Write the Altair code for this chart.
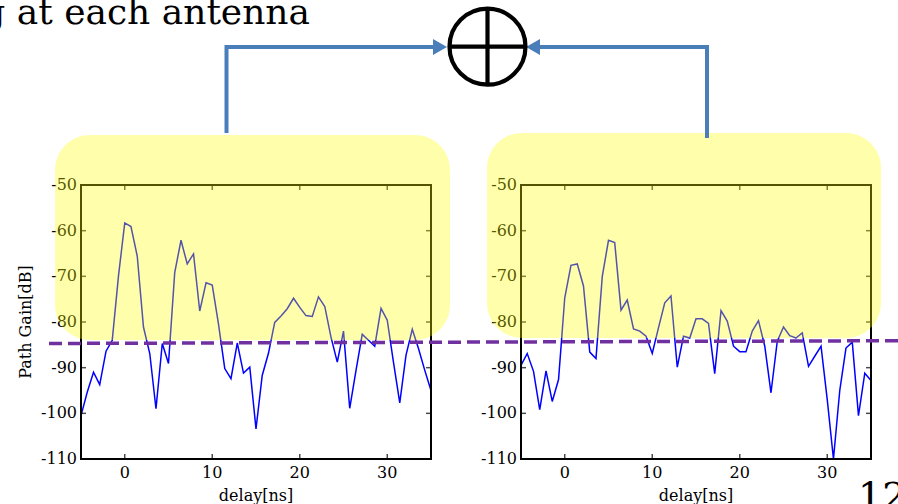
import altair as alt
import pandas as pd

# ---------------- data ----------------
delay_ns = [-5.0, -4.29, -3.57, -2.86, -2.14, -1.43, -0.71, 0.0, 0.71, 1.43,
            2.14, 2.86, 3.57, 4.29, 5.0, 5.71, 6.43, 7.14, 7.86, 8.57,
            9.29, 10.0, 10.71, 11.43, 12.14, 12.86, 13.57, 14.29, 15.0, 15.71,
            16.43, 17.14, 17.86, 18.57, 19.29, 20.0, 20.71, 21.43, 22.14, 22.86,
            23.57, 24.29, 25.0, 25.71, 26.43, 27.14, 27.86, 28.57, 29.29, 30.0,
            30.71, 31.43, 32.14, 32.86, 33.57, 34.29, 35.0]

gain_left = [-100.5, -95.4, -91.0, -93.7, -86.4, -84.0, -69.8, -58.3, -59.1, -65.6,
             -81.1, -86.9, -99.0, -84.7, -89.1, -69.2, -62.1, -67.3, -65.1, -77.6,
             -71.4, -71.9, -80.4, -90.2, -92.4, -84.6, -91.2, -89.9, -103.4, -91.7,
             -86.8, -80.1, -78.7, -77.1, -74.8, -76.8, -78.6, -78.8, -74.5, -76.6,
             -83.3, -88.8, -82.0, -98.9, -90.6, -82.7, -84.0, -85.3, -77.0, -79.6,
             -88.8, -97.7, -87.3, -81.6, -85.8, -90.6, -95.0]

gain_right = [-89.5, -86.9, -90.8, -99.2, -90.7, -97.4, -92.6, -74.7, -67.6, -67.3,
              -72.1, -86.6, -88.0, -70.0, -62.1, -62.6, -77.4, -75.2, -81.5, -82.0,
              -83.1, -86.9, -81.3, -75.8, -74.3, -89.9, -83.1, -83.5, -79.3, -79.3,
              -80.3, -91.3, -77.5, -79.8, -85.3, -86.5, -86.5, -82.0, -79.7, -85.3,
              -95.5, -84.2, -81.1, -83.0, -83.5, -82.4, -89.7, -87.5, -85.3, -97.0,
              -110.0, -95.0, -85.7, -84.4, -100.5, -91.2, -92.8]

x_ticks = [0, 10, 20, 30]
y_ticks = [-50, -60, -70, -80, -90, -100, -110]
x_domain = [-5, 35]
y_domain = [-110, -50]

heading = "g at each antenna"
y_title = "Path Gain[dB]"
x_title = "delay[ns]"
page_no = "12"

# ---------------- layout (pixels of the 898x504 page) ----------------
W, H = 898, 504
FONT = "DejaVu Serif"
panels = {"left": [81, 431], "right": [521, 871]}
plot_y_range = [459, 185]

XD = alt.Scale(domain=[0, W], range=[0, W], nice=False, zero=False)
YD = alt.Scale(domain=[0, H], range=[0, H], nice=False, zero=False)


def px(x, y):
    return dict(x=alt.X("x:Q", scale=XD, axis=None), y=alt.Y("y:Q", scale=YD, axis=None))


def panel_layers(name, gains):
    xs = alt.Scale(domain=x_domain, range=panels[name], nice=False, zero=False)
    ys = alt.Scale(domain=y_domain, range=plot_y_range, nice=False, zero=False)
    X = lambda f="x": alt.X(f + ":Q", scale=xs, axis=None)
    Y = lambda f="y": alt.Y(f + ":Q", scale=ys, axis=None)
    out = []
    df = pd.DataFrame({"x": delay_ns, "y": gains})
    out.append(alt.Chart(df).mark_line(color="#0000FF", strokeWidth=1.5, clip=True)
               .encode(x=X(), y=Y()))
    frame = pd.DataFrame({"x": [x_domain[0]], "x2": [x_domain[1]],
                          "y": [y_domain[0]], "y2": [y_domain[1]]})
    out.append(alt.Chart(frame).mark_rect(filled=False, stroke="black", strokeWidth=2)
               .encode(x=X(), x2="x2:Q", y=Y(), y2="y2:Q"))
    inner_y = pd.DataFrame({"y": [v for v in y_ticks if v not in y_domain]})
    inner_y["xl"] = x_domain[0]
    inner_y["xr"] = x_domain[1]
    out.append(alt.Chart(inner_y).mark_tick(orient="horizontal", size=5, thickness=1.5,
                                            xOffset=2.5, color="black")
               .encode(x=X("xl"), y=Y()))
    out.append(alt.Chart(inner_y).mark_tick(orient="horizontal", size=5, thickness=1.5,
                                            xOffset=-2.5, color="black")
               .encode(x=X("xr"), y=Y()))
    tx = pd.DataFrame({"x": x_ticks})
    tx["yb"] = y_domain[0]
    tx["yt"] = y_domain[1]
    out.append(alt.Chart(tx).mark_tick(orient="vertical", size=5, thickness=1.5,
                                       yOffset=-2.5, color="black")
               .encode(x=X(), y=Y("yb")))
    out.append(alt.Chart(tx).mark_tick(orient="vertical", size=5, thickness=1.5,
                                       yOffset=2.5, color="black")
               .encode(x=X(), y=Y("yt")))
    ly = pd.DataFrame({"y": y_ticks, "t": [str(v) for v in y_ticks]})
    ly["x"] = x_domain[0]
    out.append(alt.Chart(ly).mark_text(font=FONT, fontSize=16, align="right",
                                       baseline="middle", dx=-4, color="black")
               .encode(x=X(), y=Y(), text="t:N"))
    lx = pd.DataFrame({"x": x_ticks, "t": [str(v) for v in x_ticks]})
    lx["y"] = y_domain[0]
    out.append(alt.Chart(lx).mark_text(font=FONT, fontSize=16, align="center",
                                       baseline="middle", dy=13.5, color="black")
               .encode(x=X(), y=Y(), text="t:N"))
    tt = pd.DataFrame({"x": [sum(x_domain) / 2], "y": [y_domain[0]], "t": [x_title]})
    out.append(alt.Chart(tt).mark_text(font=FONT, fontSize=16, align="center",
                                       baseline="alphabetic", dy=41.5, color="black")
               .encode(x=X(), y=Y(), text="t:N"))
    return out


layers = []
layers += panel_layers("left", gain_left)
layers += panel_layers("right", gain_right)

# y title of the left panel
layers.append(alt.Chart(pd.DataFrame({"x": [26], "y": [322], "t": [y_title]}))
              .mark_text(font=FONT, fontSize=16, angle=270, align="center",
                         baseline="middle", color="black")
              .encode(**px(0, 0), text="t:N"))

# yellow rounded highlight boxes (semi transparent, over the plots)
boxes = pd.DataFrame({"x": [55, 487], "x2": [450, 881], "y": [135, 133], "y2": [340, 338]})
layers.append(alt.Chart(boxes).mark_rect(color="#FFFF00", opacity=0.33, cornerRadius=35)
              .encode(x=alt.X("x:Q", scale=XD, axis=None), x2="x2:Q",
                      y=alt.Y("y:Q", scale=YD, axis=None), y2="y2:Q"))

# purple dashed threshold line
dash = pd.DataFrame({"x": [49, 898], "y": [343.5, 340.7]})
layers.append(alt.Chart(dash).mark_line(color="#7030A0", strokeWidth=3.5, strokeDash=[13, 6])
              .encode(**px(0, 0)))

# blue connectors
conn = pd.DataFrame({"x": [226.5, 226.5, 441, 707, 707, 532],
                     "y": [133, 47, 47, 138, 47, 47],
                     "g": ["a", "a", "a", "b", "b", "b"],
                     "i": [0, 1, 2, 0, 1, 2]})
layers.append(alt.Chart(conn).mark_line(color="#4A7EBB", strokeWidth=4, strokeJoin="miter")
              .encode(**px(0, 0), detail="g:N", order="i:Q"))
layers.append(alt.Chart(pd.DataFrame({"x": [440], "y": [47]}))
              .mark_point(shape="M-0.875,-1L0.875,0L-0.875,1Z", size=256, filled=True,
                          color="#4A7EBB", opacity=1)
              .encode(**px(0, 0)))
layers.append(alt.Chart(pd.DataFrame({"x": [533], "y": [47]}))
              .mark_point(shape="M0.875,-1L-0.875,0L0.875,1Z", size=256, filled=True,
                          color="#4A7EBB", opacity=1)
              .encode(**px(0, 0)))

# summing node: circle with a cross
layers.append(alt.Chart(pd.DataFrame({"x": [487.5], "y": [46.7]}))
              .mark_point(shape="circle", size=5776, filled=False, stroke="black",
                          strokeWidth=4.2, opacity=1)
              .encode(**px(0, 0)))
cross = pd.DataFrame({"x": [487.5, 487.5, 449, 526], "y": [8.5, 85, 46.7, 46.7],
                      "g": ["v", "v", "h", "h"], "i": [0, 1, 0, 1]})
layers.append(alt.Chart(cross).mark_line(color="black", strokeWidth=4.2)
              .encode(**px(0, 0), detail="g:N", order="i:Q"))

# slide texts
layers.append(alt.Chart(pd.DataFrame({"x": [310], "y": [24], "t": [heading]}))
              .mark_text(font=FONT, fontSize=36, align="right", baseline="alphabetic",
                         color="black")
              .encode(**px(0, 0), text="t:N"))
layers.append(alt.Chart(pd.DataFrame({"x": [858], "y": [509], "t": [page_no]}))
              .mark_text(font=FONT, fontSize=38, align="left", baseline="alphabetic",
                         color="black")
              .encode(**px(0, 0), text="t:N"))

chart = (alt.layer(*layers)
         .resolve_scale(x="independent", y="independent")
         .properties(width=W, height=H, padding=0, autosize="none", background="white")
         .configure_view(stroke=None))

chart.save("out.html", embed_options={"renderer": "svg", "actions": False})
